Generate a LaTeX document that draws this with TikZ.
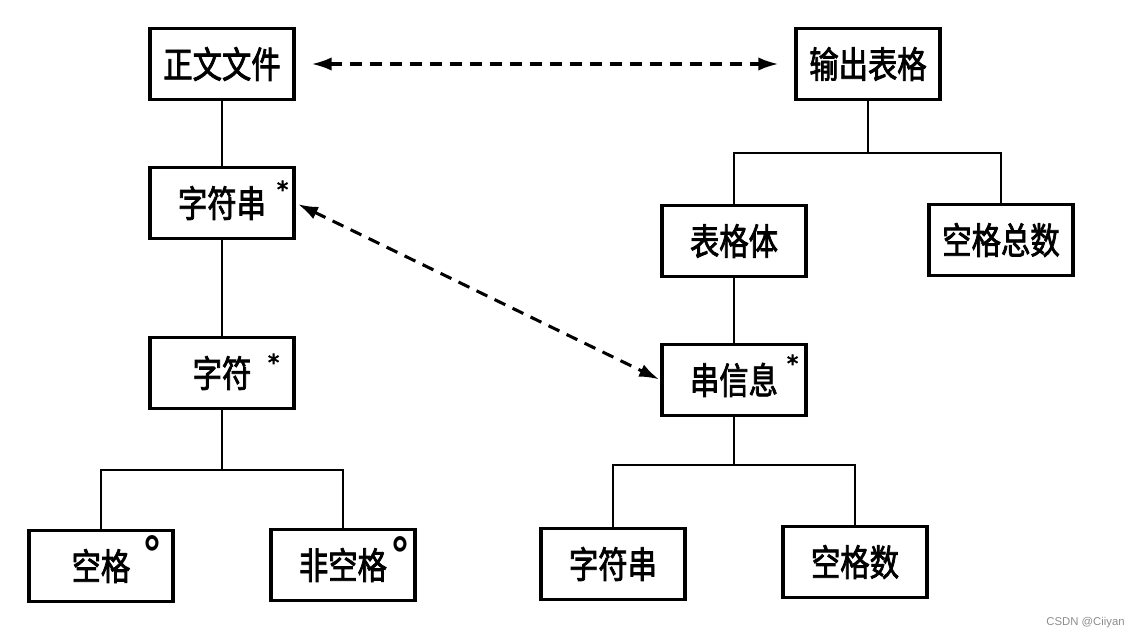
\documentclass[tikz,border=0pt]{standalone}
\usepackage{fontspec}
\newfontfamily\cjk[FakeStretch=0.8,FakeBold=2]{Noto Sans CJK SC}
\newfontfamily\wm{Liberation Sans}
\newfontfamily\djfont[FakeBold=3]{DejaVu Sans}
\newfontfamily\djcirc{DejaVu Sans}
\usetikzlibrary{arrows.meta,calc}
\begin{document}
\begin{tikzpicture}[x=0.75pt,y=-0.75pt,
  box/.style={draw,line width=2.4pt,minimum width=108pt,minimum height=53pt,inner sep=0pt,font=\cjk\fontsize{27.5}{30}\selectfont},
  link/.style={line width=1.9pt},
  dasharrow/.style={line width=2.3pt,dash pattern=on 9pt off 6pt,{Latex[length=15pt,width=10pt]}-{Latex[length=15pt,width=10pt]}},
  supmark/.style={inner sep=0pt,font=\djfont\fontsize{17}{17}\selectfont},
  supcirc/.style={inner sep=0pt,yscale=1.2,font=\djcirc\bfseries\fontsize{30}{30}\selectfont}]
\useasboundingbox (0,0) rectangle (1129,639);
% left tree
\node[box] (zwwj) at (222,64) {正文文件};
\node[box] (zfc) at (222,203) {字符串\hspace{10pt}};
\node[box] (zf) at (222,373) {字符\hspace{6pt}};
\node[box] (kg) at (101,566) {空格\hspace{8pt}};
\node[box] (fkg) at (343,565) {非空格\hspace{6pt}};
% right tree
\node[box] (scbg) at (868,64) {输出表格};
\node[box] (bgt) at (734,241) {表格体};
\node[box] (kgzs) at (1001,240) {空格总数};
\node[box] (cxx) at (734,380) {串信息};
\node[box] (zfc2) at (613,564) {字符串};
\node[box] (kgs) at (855,562) {空格数};
% marks
\node[supmark] (s1) at ($(zfc.north east)+(-13,23)$) {*};
\node[supmark] (s2) at ($(zf.north east)+(-22,26)$) {*};
\node[supmark] (s3) at ($(cxx.north east)+(-15,20)$) {*};
\node[supcirc] (c1) at ($(kg.north east)+(-22,24)$) {°};
\node[supcirc] (c2) at ($(fkg.north east)+(-16,26)$) {°};
% branch levels
\coordinate (b1) at (0,470);
\coordinate (b2) at (0,153);
\coordinate (b3) at (0,465);
% links
\draw[link] (zwwj.south) -- (zfc.north);
\draw[link] (zfc.south) -- (zf.north);
\draw[link] (zf.south) -- (zf.south |- b1);
\draw[link] (kg.north) -- (kg.north |- b1) -- (fkg.north |- b1) -- (fkg.north);
\draw[link] (scbg.south) -- (scbg.south |- b2);
\draw[link] (bgt.north) -- (bgt.north |- b2) -- (kgzs.north |- b2) -- (kgzs.north);
\draw[link] (bgt.south) -- (cxx.north);
\draw[link] (cxx.south) -- (cxx.south |- b3);
\draw[link] (zfc2.north) -- (zfc2.north |- b3) -- (kgs.north |- b3) -- (kgs.north);
% dashed correspondences
\draw[dasharrow,shorten <=12pt,shorten >=12pt] (zwwj.east) -- (scbg.west);
\draw[dasharrow,shorten <=2pt,shorten >=1pt] (zfc.east) -- (cxx.west);
% watermark
\node[font=\wm\fontsize{8.5}{9}\selectfont,text=black!45,anchor=east,inner sep=0pt] (wmk) at (1125,623) {CSDN @Ciiyan};
\end{tikzpicture}
\end{document}
